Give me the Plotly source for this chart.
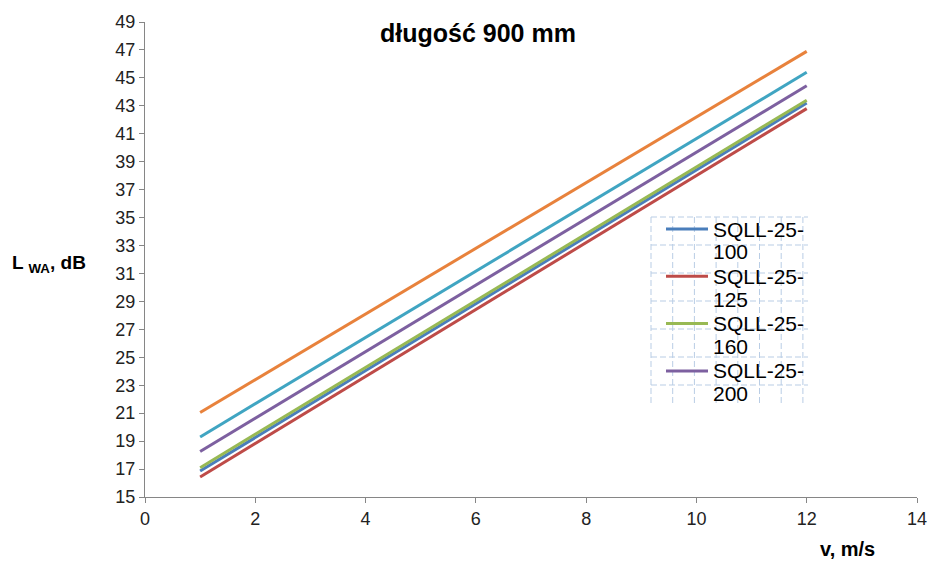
import plotly.graph_objects as go

# ---- data ----
v = [1, 12]
series_names = ["SQLL-25-100", "SQLL-25-125", "SQLL-25-160", "SQLL-25-200", "seria 5", "seria 6"]
lwa_100 = [16.86, 43.2]
lwa_125 = [16.43, 42.8]
lwa_160 = [17.1, 43.4]
lwa_200 = [18.26, 44.44]
lwa_s5 = [19.3, 45.4]
lwa_s6 = [21.05, 46.9]
series_values = [lwa_100, lwa_125, lwa_160, lwa_200, lwa_s5, lwa_s6]
colors = ["#4A7EBB", "#BE4B48", "#98B954", "#7D60A0", "#40A5C2", "#E8823C"]
legend_names = ["SQLL-25-", "SQLL-25-", "SQLL-25-", "SQLL-25-"]
legend_suffix = ["100", "125", "160", "200"]

x_ticks = list(range(0, 15, 2))
y_ticks = list(range(15, 50, 2))

W, H = 930, 563
ML, MR, MT = 145, 13, 22
PLOT_BOTTOM = 497
MB = H - PLOT_BOTTOM
PW, PH = W - ML - MR, H - MT - MB

def px(xp):  # screen pixel -> paper
    return (xp - ML) / PW

def py(yp):
    return (MT + PH - yp) / PH

FONT = "Liberation Sans, Arial, sans-serif"

fig = go.Figure()
for name, vals, col in zip(series_names, series_values, colors):
    fig.add_trace(go.Scatter(x=v, y=vals, mode="lines", name=name,
                             line=dict(color=col, width=3), showlegend=False))

shapes = []
grid_col = "#B9CDE5"
for k in range(8):
    xp = 651 + k * 21.7
    shapes.append(dict(type="line", xref="paper", yref="paper",
                       x0=px(xp), x1=px(xp), y0=py(217), y1=py(403),
                       line=dict(color=grid_col, width=1, dash="6px,3px"), layer="below"))
for k in range(7):
    yp = 217 + k * 28
    shapes.append(dict(type="line", xref="paper", yref="paper",
                       x0=px(651), x1=px(808), y0=py(yp), y1=py(yp),
                       line=dict(color=grid_col, width=1, dash="6px,3px"), layer="below"))

annotations = []
for i in range(4):
    yp = 229 + i * 47.3
    shapes.append(dict(type="line", xref="paper", yref="paper",
                       x0=px(666), x1=px(708), y0=py(yp), y1=py(yp),
                       line=dict(color=colors[i], width=3)))
    annotations.append(dict(xref="paper", yref="paper", x=px(711), y=py(yp),
                            text=legend_names[i], showarrow=False, xanchor="left", yanchor="middle",
                            font=dict(family=FONT, size=21, color="#000000")))
    annotations.append(dict(xref="paper", yref="paper", x=px(711), y=py(yp + 23),
                            text=legend_suffix[i], showarrow=False, xanchor="left", yanchor="middle",
                            font=dict(family=FONT, size=21, color="#000000")))

annotations.append(dict(xref="paper", yref="paper", x=px(478), y=py(33),
                        text="<b>długość 900 mm</b>", showarrow=False, xanchor="center", yanchor="middle",
                        font=dict(family=FONT, size=25, color="#000000")))
annotations.append(dict(xref="paper", yref="paper", x=px(10), y=py(264),
                        text="<b>L <sub>WA</sub>, dB</b>", showarrow=False, xanchor="left", yanchor="middle",
                        font=dict(family=FONT, size=19, color="#000000")))
annotations.append(dict(xref="paper", yref="paper", x=px(847), y=py(549),
                        text="<b>v, m/s</b>", showarrow=False, xanchor="center", yanchor="middle",
                        font=dict(family=FONT, size=20, color="#000000")))

axis_common = dict(showgrid=False, zeroline=False, showline=True, linecolor="#868686", linewidth=1,
                   ticks="outside", ticklen=5, tickcolor="#868686", tickwidth=1,
                   ticklabeloverflow="allow",
                   tickfont=dict(family=FONT, size=18, color="#222222"))

fig.update_layout(
    width=W, height=H,
    margin=dict(l=ML, r=MR, t=MT, b=MB, autoexpand=False),
    paper_bgcolor="white", plot_bgcolor="white",
    xaxis=dict(range=[0, 14], tickvals=x_ticks, ticktext=[str(t) for t in x_ticks], **axis_common),
    yaxis=dict(range=[15, 49], tickvals=y_ticks, ticktext=[str(t) for t in y_ticks], **axis_common),
    shapes=shapes, annotations=annotations, showlegend=False,
)

fig.write_html("out.html", config={"displayModeBar": False},
               post_script="document.body.style.margin='0';document.body.style.overflow='hidden';")
